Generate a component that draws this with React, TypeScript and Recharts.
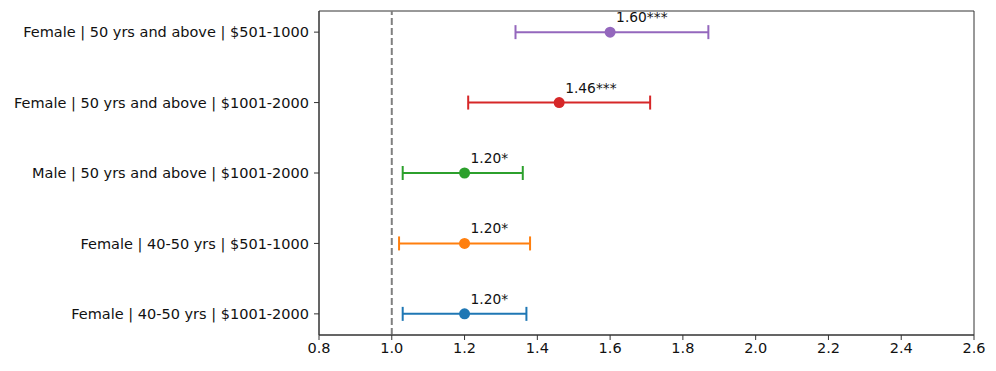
import { ScatterChart, Scatter, XAxis, YAxis, ErrorBar, ReferenceLine, ReferenceArea } from 'recharts';

// rows bottom -> top
const groups: string[] = [
  'Female | 40-50 yrs | $1001-2000',
  'Female | 40-50 yrs | $501-1000',
  'Male | 50 yrs and above | $1001-2000',
  'Female | 50 yrs and above | $1001-2000',
  'Female | 50 yrs and above | $501-1000',
];
const estimates: number[] = [1.2, 1.2, 1.2, 1.46, 1.6];
const lowerCI: number[] = [1.03, 1.02, 1.03, 1.21, 1.34];
const upperCI: number[] = [1.37, 1.38, 1.36, 1.71, 1.87];
const labels: string[] = ['1.20*', '1.20*', '1.20*', '1.46***', '1.60***'];
const colors: string[] = ['#1f77b4', '#ff7f0e', '#2ca02c', '#d62728', '#9467bd'];
const xTicks: number[] = [0.8, 1.0, 1.2, 1.4, 1.6, 1.8, 2.0, 2.2, 2.4, 2.6];

const rows = groups.map((g, i) => ({
  group: g,
  pos: i,
  est: estimates[i],
  err: [estimates[i] - lowerCI[i], upperCI[i] - estimates[i]],
  label: labels[i],
}));

const FONT = 'DejaVu Sans, sans-serif';

const makeShape = (color: string) => (props: any) => {
  const { cx, cy, payload } = props;
  return (
    <g>
      <circle cx={cx} cy={cy} r={5.5} fill={color} />
      <text x={cx + 6} y={cy - 10} fontSize={13.8} fontFamily={FONT} fill="#111">
        {payload.label}
      </text>
    </g>
  );
};

export default function App() {
  return (
    <div style={{ position: 'absolute', left: 0, top: 0 }}>
      <ScatterChart width={996} height={371} margin={{ top: 11, right: 22, bottom: 0, left: 0 }}>
        <XAxis
          type="number"
          dataKey="est"
          domain={[0.8, 2.6]}
          ticks={xTicks}
          allowDataOverflow
          tickFormatter={(v: number) => v.toFixed(1)}
          height={36}
          tickSize={5}
          tickMargin={3}
          stroke="#333"
          tick={{ fill: '#111', fontSize: 14.5, fontFamily: FONT }}
        />
        <YAxis
          type="number"
          dataKey="pos"
          domain={[-0.3, 4.3]}
          ticks={[0, 1, 2, 3, 4]}
          allowDataOverflow
          tickFormatter={(v: number) => groups[v] ?? ''}
          width={319}
          tickSize={5}
          tickMargin={5}
          stroke="#333"
          tick={{ fill: '#111', fontSize: 14.5, fontFamily: FONT }}
        />
        <ReferenceArea x1={0.8} x2={2.6} y1={-0.3} y2={4.3} fill="none" stroke="#333" strokeWidth={1} />
        <ReferenceLine x={1.0} stroke="#808080" strokeWidth={2} strokeDasharray="7 3" />
        {rows.map((r, i) => (
          <Scatter
            key={r.group}
            data={[r]}
            fill={colors[i]}
            shape={makeShape(colors[i])}
            isAnimationActive={false}
          >
            <ErrorBar dataKey="err" direction="x" width={7} stroke={colors[i]} strokeWidth={2} isAnimationActive={false} />
          </Scatter>
        ))}
      </ScatterChart>
    </div>
  );
}
